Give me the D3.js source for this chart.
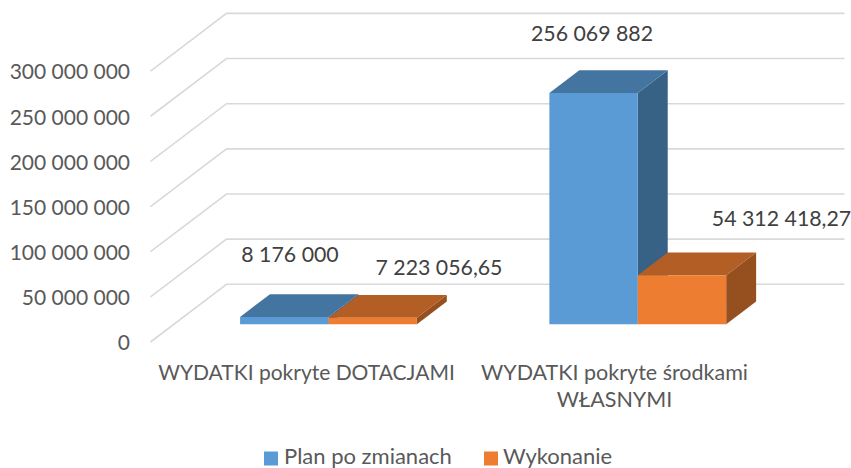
<!DOCTYPE html>
<html><head><meta charset="utf-8">
<script src="https://cdnjs.cloudflare.com/ajax/libs/d3/7.8.5/d3.min.js"></script>
<style>html,body{margin:0;padding:0;background:#fff}svg{display:block}text{font-family:"Lato",sans-serif;}</style>
</head><body><svg id="c" width="851" height="468"></svg>
<script>
const categories = ["WYDATKI pokryte DOTACJAMI", "WYDATKI pokryte środkami|WŁASNYMI"];
const seriesNames = ["Plan po zmianach", "Wykonanie"];
const planValues = [8176000, 256069882];
const wykonanieValues = [7223056.65, 54312418.27];
const planLabels = ["8 176 000", "256 069 882"];
const wykonanieLabels = ["7 223 056,65", "54 312 418,27"];
const tickValues = [0, 50000000, 100000000, 150000000, 200000000, 250000000, 300000000];
const tickLabels = ["0", "50 000 000", "100 000 000", "150 000 000", "200 000 000", "250 000 000", "300 000 000"];

const svg = d3.select("#c");
const fs = 21.3;
const y = d3.scaleLinear().domain([0, 300000000]).range([0, 270.9]);
const x0 = d3.scaleBand().domain(categories).range([0, 618.6]);
const barW = 88.4;
const x1 = d3.scaleBand().domain(seriesNames).range([-barW, barW]);

// oblique projection: u along width, h height, d depth 0 (front)..1 (back)
const ox = 150.5, oy = 342, depthX = 76, depthY = -57.7;
const P = (u, h, d) => [ox + u + d * depthX, oy - h + d * depthY];
const poly = (pts) => "M" + pts.map(p => p.join(",")).join("L") + "Z";

// grid
const gridCol = "#d9d9d9";
tickValues.forEach((t, i) => {
  const h = y(t);
  svg.append("path").attr("fill", "none").attr("stroke", gridCol).attr("stroke-width", 1.6)
    .attr("d", "M" + [P(0, h, 0), P(0, h, 1), P(618, h, 1)].map(p => p.join(",")).join("L"));
  svg.append("text").attr("x", 130).attr("y", P(0, h, 0)[1] + 8.3).attr("text-anchor", "end")
    .attr("font-size", 21).attr("fill", "#595959").text(tickLabels[i]);
});

const colors = [
  {front: "#5b9bd5", top: "#4475a1", side: "#376286"},
  {front: "#ed7d31", top: "#b35e25", side: "#964f1f"}
];
const d0 = 0.307, d1 = 0.307 + 0.394;
[planValues, wykonanieValues].forEach((vals, s) => {
  vals.forEach((v, c) => {
    const u0 = x0(categories[c]) + x0.bandwidth() / 2 + x1(seriesNames[s]);
    const u1 = u0 + barW, h = y(v), col = colors[s];
    const g = svg.append("g");
    g.append("path").attr("fill", col.side).attr("d", poly([P(u1,0,d0),P(u1,h,d0),P(u1,h,d1),P(u1,0,d1)]));
    g.append("path").attr("fill", col.top).attr("d", poly([P(u0,h,d0),P(u1,h,d0),P(u1,h,d1),P(u0,h,d1)]));
    g.append("path").attr("fill", col.front).attr("d", poly([P(u0,0,d0),P(u1,0,d0),P(u1,h,d0),P(u0,h,d0)]));
  });
});

// data labels
const labelPos = [[[290, 262], [439, 275]], [[592, 41], [781.5, 226]]];
[planLabels, wykonanieLabels].forEach((labs, s) => labs.forEach((l, c) => {
  svg.append("text").attr("x", labelPos[c][s][0]).attr("y", labelPos[c][s][1]).attr("text-anchor", "middle")
    .attr("font-size", fs).attr("fill", "#404040").text(l);
}));

// category labels
const catCx = [306.5, 614.5];
const catFs = [21, 21.5];
categories.forEach((c, i) => {
  c.split("|").forEach((line, j) => {
    svg.append("text").attr("x", catCx[i]).attr("y", 380 + j * 27).attr("text-anchor", "middle")
      .attr("font-size", catFs[i]).attr("fill", "#595959").text(line);
  });
});

// legend
const legendX = [[264, 284], [484, 503]];
seriesNames.forEach((n, i) => {
  svg.append("rect").attr("x", legendX[i][0]).attr("y", 451.5).attr("width", 14).attr("height", 14).attr("fill", colors[i].front);
  svg.append("text").attr("x", legendX[i][1]).attr("y", 463.6).attr("font-size", 22).attr("fill", "#595959").text(n);
});
</script></body></html>
